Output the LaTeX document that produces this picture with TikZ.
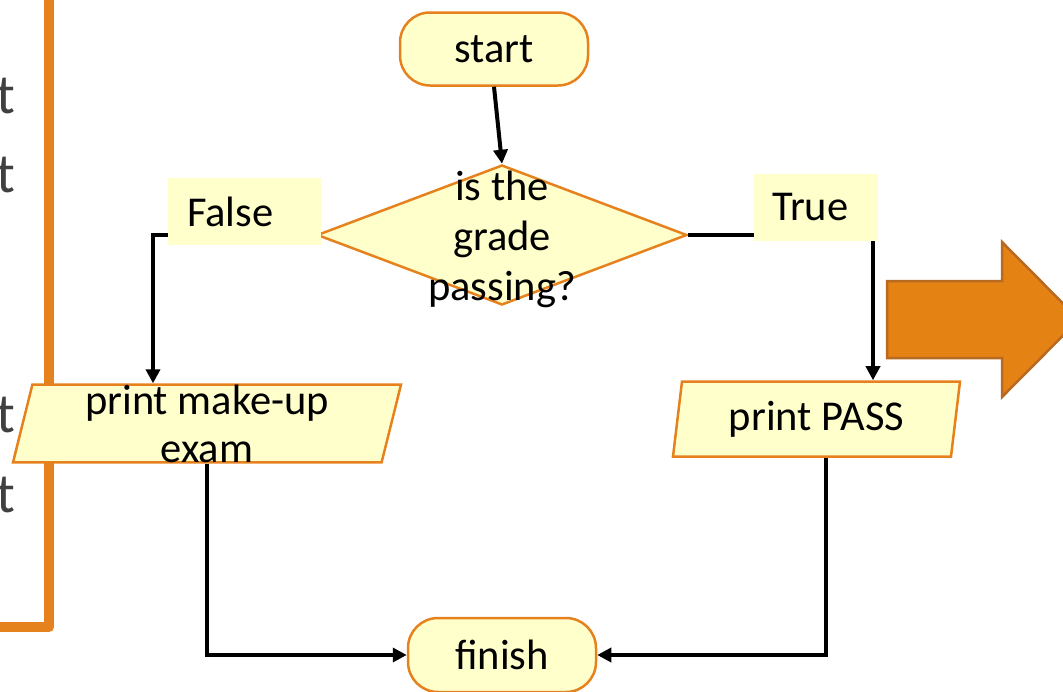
\documentclass[tikz,border=0pt]{standalone}
\usepackage{fontspec}
\setmainfont{Carlito}
\usetikzlibrary{shapes.geometric, arrows.meta}
\definecolor{boxfill}{RGB}{255,255,204}
\definecolor{boxline}{RGB}{230,130,30}
\definecolor{bigarrow}{RGB}{229,130,20}
\definecolor{bigarrowline}{RGB}{184,106,32}
\definecolor{cuttext}{RGB}{64,64,64}

\begin{document}
\begin{tikzpicture}[x=1pt, y=-1pt,
    every node/.style={font=\fontsize{42.5}{50}\selectfont},
    terminal/.style={draw=boxline, fill=boxfill, line width=2.5pt, rounded corners=30pt,
        minimum width=188pt, minimum height=73pt, inner sep=0pt},
    decision/.style={diamond, draw=boxline, fill=boxfill, line width=2.5pt,
        minimum width=370pt, minimum height=140pt, inner sep=0pt},
    io/.style={trapezium, trapezium left angle=76, trapezium right angle=104,
        trapezium stretches body, draw=boxline, fill=boxfill, line width=2.5pt,
        minimum height=75pt, inner sep=0pt, align=center,
        font=\fontsize{42.5}{48}\selectfont},
    tag/.style={fill=boxfill, inner ysep=0pt, inner xsep=18pt, minimum height=67pt, align=left},
    flow/.style={-{Triangle[length=14pt, width=14pt]}, line width=4pt}]
    \clip (0,0) rectangle (1063,691);

    % slide frame on the left
    \draw[line width=10pt, boxline, line join=round] (49,-10) -- (49,627) -- (-10,627);
    \foreach \yb [count=\i] in {113,192,432,512}
        \node[anchor=base east, inner sep=0pt, text=cuttext, font=\fontsize{56}{60}\selectfont] (cut\i) at (15,\yb) {t};

    % big arrow on the right
    \fill[bigarrow, draw=bigarrowline, line width=2.5pt]
        (887,281) -- (1002,281) -- (1002,242) -- (1079,319.5) -- (1002,397) -- (1002,358) -- (887,358) -- cycle;

    \node[terminal] (start) at (494,49) {start};
    \node[decision] (dec) at (502,235) {};
    \node[align=center] (dectext) at ([yshift=-4pt]dec.center) {is the\\grade\\passing?};
    \node[io, minimum width=388pt] (makeup) at (207,423.5) {print make-up\\exam};
    \node[io, minimum width=287pt] (pass) at (816.5,419) {print PASS};
    \node[terminal, minimum height=74pt] (finish) at (502,655) {finish};

    % connectors
    \coordinate (fbend) at (153,235);
    \coordinate (tbend) at (873,235);
    \draw[flow] (start.south) -- (dec.north);
    \draw[flow] (dec.west) -- (fbend) -- (fbend |- makeup.north);
    \draw[flow] (dec.east) -- (tbend) -- (tbend |- pass.north);
    \draw[flow] (makeup.south) |- (finish.west);
    \draw[flow] ([xshift=9pt]pass.south) |- (finish.east);

    \node[tag, text width=115pt, inner xsep=19pt] (falsetag) at (244.5,211.5) {False};
    \node[tag, text width=88pt] (truetag) at (816,207.5) {True};
\end{tikzpicture}
\end{document}
